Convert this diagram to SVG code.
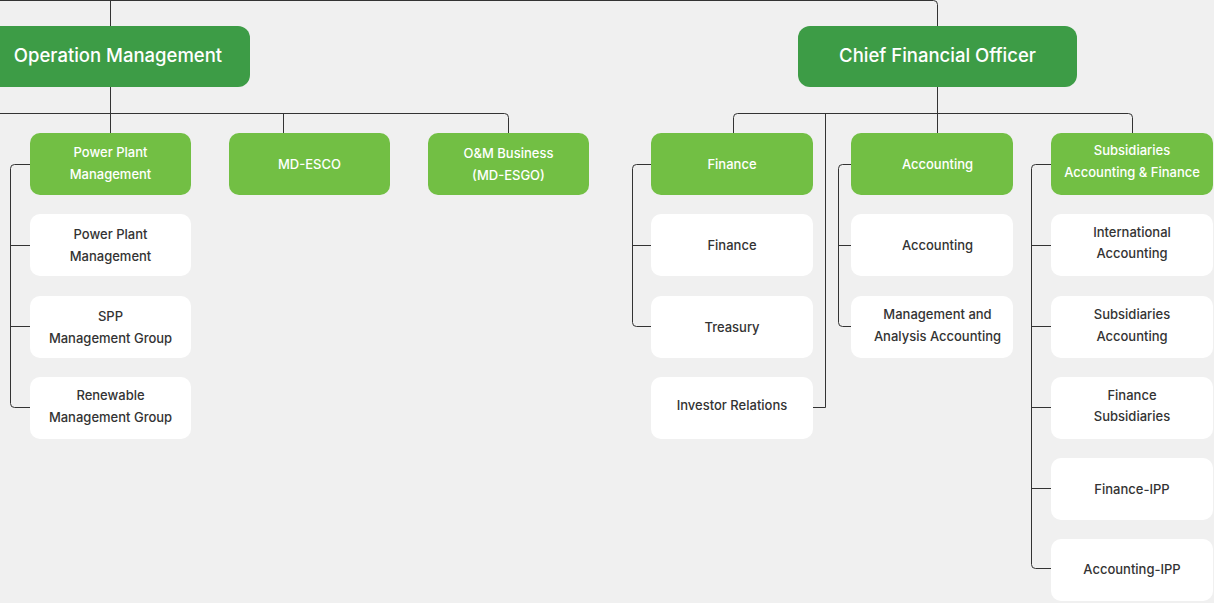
<svg xmlns="http://www.w3.org/2000/svg" width="1214" height="603" viewBox="0 0 1214 603">
<style>
.bg{fill:#f0f0f0}
.top{fill:#3d9c46}
.mid{fill:#72bf44}
.leaf{fill:#ffffff}
.tt{font-family:Inter,"Liberation Sans",sans-serif;font-weight:500;font-size:18.5px;fill:#ffffff;text-anchor:middle}
.tm{font-family:Inter,"Liberation Sans",sans-serif;font-weight:500;font-size:13px;fill:#ffffff;text-anchor:middle}
.tl{font-family:Inter,"Liberation Sans",sans-serif;font-weight:500;font-size:13px;fill:#333333;text-anchor:middle}
.con path{fill:none;stroke:#333333;stroke-width:1}
</style>
<rect class="bg" x="0" y="0" width="1214" height="603"/>
<g class="con" id="connectors">
<path d="M0 0.5 H933.5 a4 4 0 0 1 4 4 V26"/>
<path d="M110.5 0 V26"/>
<path d="M110.5 87 V133"/>
<path d="M0 113.5 H504.5 a4 4 0 0 1 4 4 V133"/>
<path d="M283.5 113.5 V133"/>
<path d="M30 164.5 H14.5 a4 4 0 0 0 -4 4 V403.5 a4 4 0 0 0 4 4 H30"/>
<path d="M10.5 245.5 H30"/>
<path d="M10.5 326.5 H30"/>
<path d="M937.5 87 V133"/>
<path d="M733.5 133 V117.5 a4 4 0 0 1 4 -4 H1128.5 a4 4 0 0 1 4 4 V133"/>
<path d="M825.5 113.5 V407.5 H812"/>
<path d="M651 164.5 H636.5 a4 4 0 0 0 -4 4 V322.5 a4 4 0 0 0 4 4 H651"/>
<path d="M632.5 245.5 H651"/>
<path d="M851 164.5 H842.5 a4 4 0 0 0 -4 4 V322.5 a4 4 0 0 0 4 4 H851"/>
<path d="M838.5 245.5 H851"/>
<path d="M1051 164.5 H1035.5 a4 4 0 0 0 -4 4 V564.5 a4 4 0 0 0 4 4 H1051"/>
<path d="M1031.5 245.5 H1051"/>
<path d="M1031.5 326.5 H1051"/>
<path d="M1031.5 407.5 H1051"/>
<path d="M1031.5 488.5 H1051"/>
</g>
<g id="operation-management"><rect class="top" x="-30" y="26" width="280" height="61" rx="12"/><text class="tt" x="118" y="62">Operation Management</text></g>
<g id="cfo"><rect class="top" x="798" y="26" width="279" height="61" rx="12"/><text class="tt" x="937.5" y="62">Chief Financial Officer</text></g>

<g id="ppm"><rect class="mid" x="30" y="133" width="161" height="62" rx="10"/><text class="tm" x="110.5" y="157">Power Plant</text><text class="tm" x="110.5" y="179">Management</text></g>
<g id="md-esco"><rect class="mid" x="229" y="133" width="161" height="62" rx="10"/><text class="tm" x="309.5" y="168.5">MD-ESCO</text></g>
<g id="om-business"><rect class="mid" x="428" y="133" width="161" height="62" rx="10"/><text class="tm" x="508.5" y="158">O&amp;M Business</text><text class="tm" x="508.5" y="180">(MD-ESGO)</text></g>

<g id="ppm-1"><rect class="leaf" x="30" y="214" width="161" height="62" rx="10"/><text class="tl" x="110.5" y="239">Power Plant</text><text class="tl" x="110.5" y="261">Management</text></g>
<g id="ppm-2"><rect class="leaf" x="30" y="296" width="161" height="62" rx="10"/><text class="tl" x="110.5" y="321">SPP</text><text class="tl" x="110.5" y="343">Management Group</text></g>
<g id="ppm-3"><rect class="leaf" x="30" y="377" width="161" height="62" rx="10"/><text class="tl" x="110.5" y="400">Renewable</text><text class="tl" x="110.5" y="422">Management Group</text></g>

<g id="finance"><rect class="mid" x="651" y="133" width="162" height="62" rx="10"/><text class="tm" x="732" y="168.5">Finance</text></g>
<g id="accounting"><rect class="mid" x="851" y="133" width="162" height="62" rx="10"/><text class="tm" x="937.5" y="168.5">Accounting</text></g>
<g id="subsidiaries"><rect class="mid" x="1051" y="133" width="162" height="62" rx="10"/><text class="tm" x="1132" y="154.5">Subsidiaries</text><text class="tm" x="1132" y="176.5">Accounting &amp; Finance</text></g>

<g id="fin-1"><rect class="leaf" x="651" y="214" width="162" height="62" rx="10"/><text class="tl" x="732" y="249.5">Finance</text></g>
<g id="fin-2"><rect class="leaf" x="651" y="296" width="162" height="62" rx="10"/><text class="tl" x="732" y="331.5">Treasury</text></g>
<g id="fin-3"><rect class="leaf" x="651" y="377" width="162" height="62" rx="10"/><text class="tl" x="732" y="410">Investor Relations</text></g>

<g id="acc-1"><rect class="leaf" x="851" y="214" width="162" height="62" rx="10"/><text class="tl" x="937.5" y="249.5">Accounting</text></g>
<g id="acc-2"><rect class="leaf" x="851" y="296" width="162" height="62" rx="10"/><text class="tl" x="937.5" y="319">Management and</text><text class="tl" x="937.5" y="341">Analysis Accounting</text></g>

<g id="sub-1"><rect class="leaf" x="1051" y="214" width="162" height="62" rx="10"/><text class="tl" x="1132" y="237">International</text><text class="tl" x="1132" y="258">Accounting</text></g>
<g id="sub-2"><rect class="leaf" x="1051" y="296" width="162" height="62" rx="10"/><text class="tl" x="1132" y="319">Subsidiaries</text><text class="tl" x="1132" y="341">Accounting</text></g>
<g id="sub-3"><rect class="leaf" x="1051" y="377" width="162" height="62" rx="10"/><text class="tl" x="1132" y="400">Finance</text><text class="tl" x="1132" y="421">Subsidiaries</text></g>
<g id="sub-4"><rect class="leaf" x="1051" y="458" width="162" height="62" rx="10"/><text class="tl" x="1132" y="494">Finance-IPP</text></g>
<g id="sub-5"><rect class="leaf" x="1051" y="539" width="162" height="62" rx="10"/><text class="tl" x="1132" y="574">Accounting-IPP</text></g>
</svg>
